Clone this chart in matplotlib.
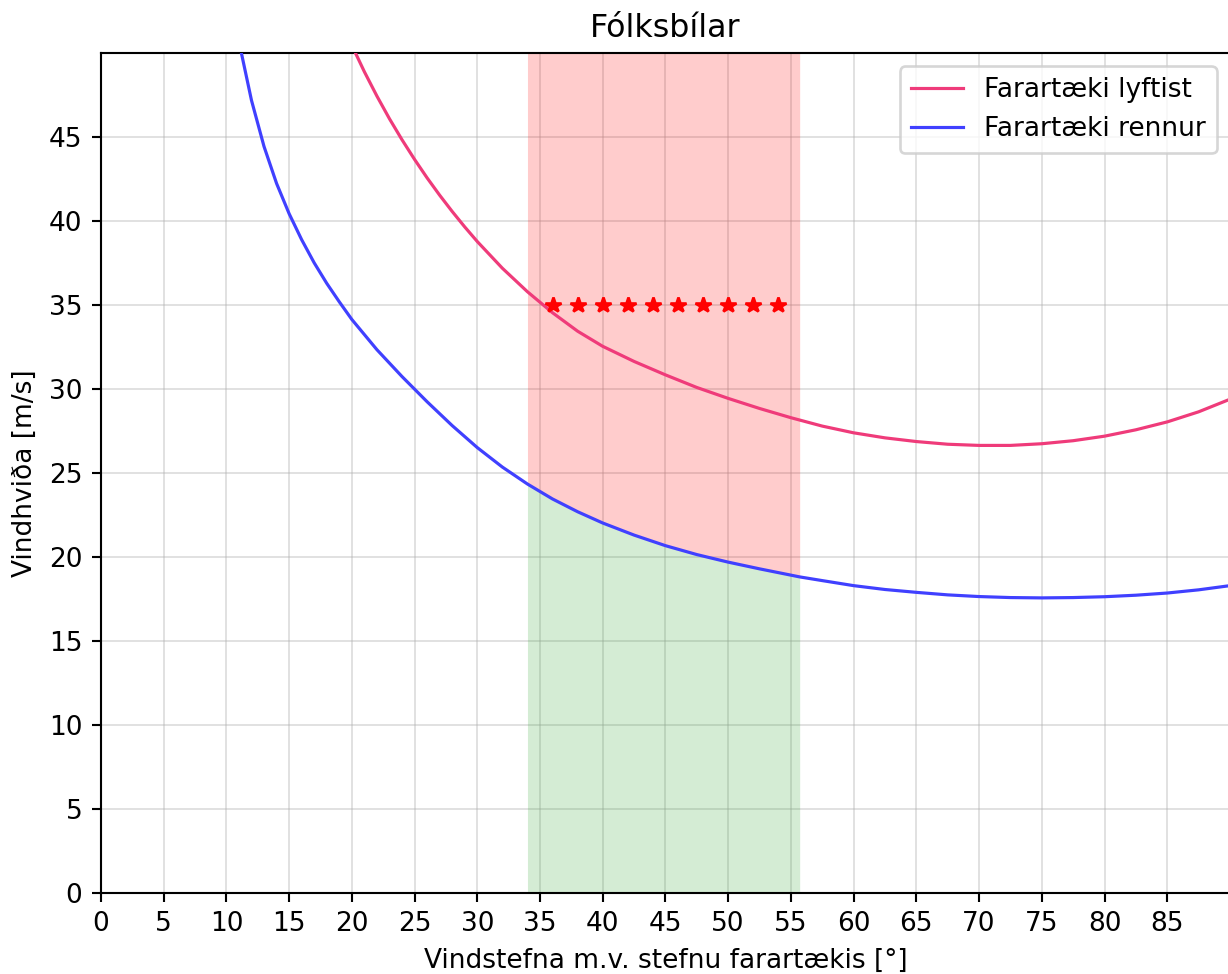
import numpy as np
import matplotlib
matplotlib.use("Agg")
import matplotlib.pyplot as plt

# Wind direction relative to vehicle heading [deg] and critical gust speed [m/s]
lift_x = [20.3, 21, 22, 23, 24, 25, 26, 27, 28, 29, 30, 32, 34, 36, 38, 40,
          42.5, 45, 47.5, 50, 52.5, 55, 57.5, 60, 62.5, 65, 67.5, 70, 72.5,
          75, 77.5, 80, 82.5, 85, 87.5, 90]
lift_y = [50.0, 48.9, 47.45, 46.1, 44.85, 43.68, 42.58, 41.55, 40.58, 39.66,
          38.79, 37.2, 35.8, 34.55, 33.45, 32.55, 31.65, 30.85, 30.1, 29.45,
          28.85, 28.3, 27.8, 27.4, 27.1, 26.88, 26.72, 26.65, 26.65, 26.75,
          26.93, 27.2, 27.58, 28.05, 28.65, 29.4]

slide_x = [11.2, 12, 13, 14, 15, 16, 17, 18, 19, 20, 22, 24, 25, 26, 28, 30,
           32, 34, 36, 38, 40, 42.5, 45, 47.5, 50, 52.5, 55.7, 57.5, 60, 62.5,
           65, 67.5, 70, 72.5, 75, 77.5, 80, 82.5, 85, 87.5, 90]
slide_y = [50.0, 47.2, 44.45, 42.25, 40.45, 38.9, 37.52, 36.3, 35.2, 34.15,
           32.35, 30.75, 30.0, 29.25, 27.83, 26.52, 25.36, 24.35, 23.46, 22.7,
           22.03, 21.31, 20.68, 20.15, 19.7, 19.3, 18.82, 18.6, 18.3, 18.07,
           17.9, 17.75, 17.65, 17.59, 17.57, 17.59, 17.64, 17.73, 17.86, 18.05,
           18.3]

span_start, span_end = 34, 55.7
star_x = [36, 38, 40, 42, 44, 46, 48, 50, 52, 54]
star_y = [35] * len(star_x)

xticks = list(range(0, 90, 5))
yticks = list(range(0, 50, 5))

labels = ["Farartæki lyftist", "Farartæki rennur"]
title = "Fólksbílar"
xlabel = "Vindstefna m.v. stefnu farartækis [°]"
ylabel = "Vindhviða [m/s]"

fig = plt.figure(figsize=(1228 / 190, 974 / 190), dpi=190)
ax = fig.add_axes([0.0822, 0.0832, 0.9194, 0.8621])

sx = np.array(slide_x)
sy = np.array(slide_y)
m = (sx >= span_start) & (sx <= span_end)
ax.fill_between(sx[m], sy[m], 50, color="red", alpha=0.2, lw=0, zorder=1)
ax.fill_between(sx[m], 0, sy[m], color="tab:green", alpha=0.2, lw=0, zorder=1)

ax.plot(lift_x, lift_y, color="#EF3B7A", lw=1.2, label=labels[0], zorder=3)
ax.plot(slide_x, slide_y, color="#4040FF", lw=1.2, label=labels[1], zorder=3)
ax.plot(star_x, star_y, "r*", ms=6, zorder=4)

ax.set_xlim(0, 90)
ax.set_ylim(0, 50)
ax.set_xticks(xticks)
ax.set_yticks(yticks)
ax.grid(True, color="#b0b0b0", alpha=0.4, lw=0.7)
ax.set_axisbelow(True)
ax.set_title(title)
ax.set_xlabel(xlabel)
ax.set_ylabel(ylabel)
ax.legend(loc="upper right")

fig.savefig("out.png", dpi=190)
